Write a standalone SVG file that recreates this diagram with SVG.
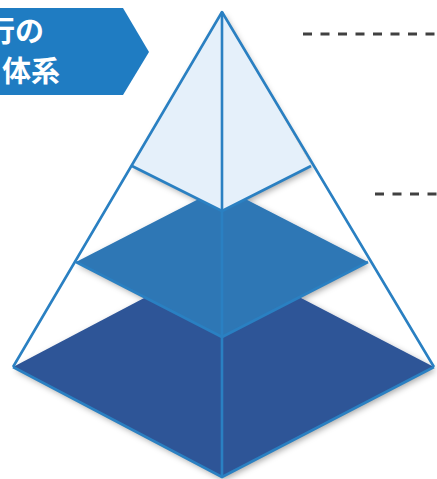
<svg xmlns="http://www.w3.org/2000/svg" width="437" height="479" viewBox="0 0 437 479">
<style>
.edge{fill:none;stroke:#2a80c2;stroke-width:2.6;stroke-linejoin:round}
.dash{stroke:#404040;stroke-width:2.8;stroke-dasharray:9 8.5;fill:none}
.lbl{font-family:"Noto Sans CJK JP","Noto Sans",sans-serif;font-size:29px;font-weight:700;fill:#ffffff}
</style>
<defs>
<filter id="sh" x="-10%" y="-10%" width="120%" height="120%">
<feDropShadow dx="2" dy="3" stdDeviation="3" flood-color="#000" flood-opacity="0.35"/>
</filter>
</defs>
<g id="banner">
<polygon points="0,8 123,8 149,52 123,95 0,95" fill="#1f7cc2"/>
<text class="lbl" x="44" y="42" text-anchor="end">行の</text>
<text class="lbl" x="60" y="82" text-anchor="end">体系</text>
</g>
<g id="pyramid" filter="url(#sh)">
<polygon id="base" points="13,367 222,257 434,367 222,477" fill="#2f5597"/>
<polygon id="middle" points="76,262 222,187 368,262 222,337" fill="#2e77b5"/>
<polygon id="top" points="222,12 311,166 222,211 132,166" fill="#e5f0fa"/>
</g>
<g id="connectors">
<polyline class="edge" points="13,367 222,12 434,367"/>
<line class="edge" x1="222" y1="12" x2="222" y2="477"/>
<polyline class="edge" points="13,367 222,477 434,367"/>
<polyline class="edge" points="132,166 222,211 311,166"/>
<polyline class="edge" points="76,262 222,337 368,262" stroke-width="1.5"/>
<line class="dash" x1="303" y1="34" x2="437" y2="34"/>
<line class="dash" x1="375" y1="194" x2="437" y2="194"/>
</g>
</svg>
